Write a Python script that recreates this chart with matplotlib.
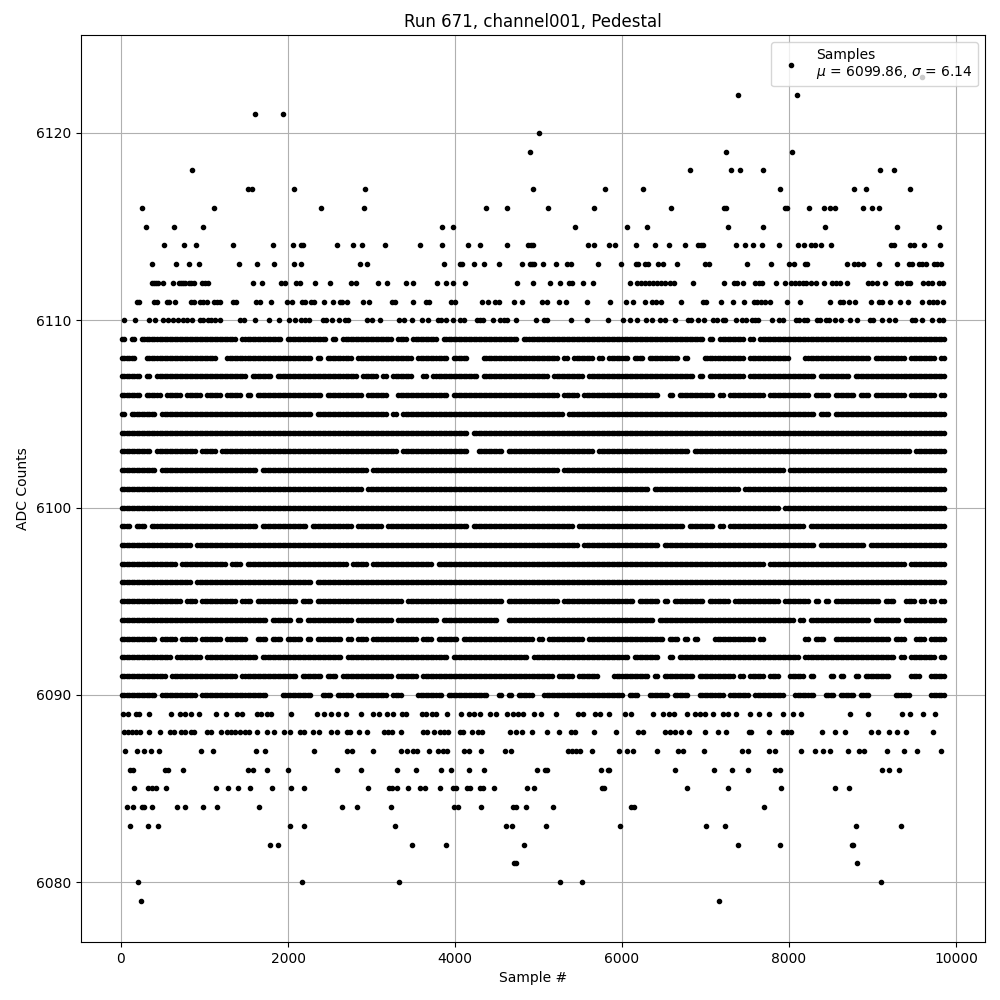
import numpy as np
import matplotlib
matplotlib.use("Agg")
import matplotlib.pyplot as plt

# Outer levels: sample numbers
s6123 = [9593]
s6122 = [7388, 8096]
s6121 = [1604, 1940]
s6120 = [5005]
s6119 = [4897, 7244, 8036]
s6118 = [848, 6812, 7304, 7412, 7688, 9092, 9260]
s6117 = [1516, 1572, 2072, 2924, 4933, 5797, 6253, 7892, 8780, 8924, 9452]
s6116 = [248, 1112, 2396, 2912, 4369, 4621, 5113, 5665, 6589, 7220, 7244, 7952, 7976, 8240, 8420, 8492, 8552, 8888, 8996, 9080]
s6115 = [296, 632, 980, 3841, 3973, 5437, 6061, 6301, 7268, 7688, 8432, 9296, 9800]
s6114 = [512, 752, 896, 1340, 1820, 2060, 2156, 2180, 2588, 2780, 2888, 3164, 3577, 3841, 4153, 4297, 4621, 4873, 4909, 4933, 5593, 5665, 5845, 5917, 6169, 6397, 6565, 6757, 6913, 6944, 6968, 7364, 7472, 7568, 7676, 7880, 8108, 8180, 8264, 8312, 8384, 8504, 9224, 9260, 9452, 9500, 9620, 9812]
s6113 = [368, 656, 812, 932, 1412, 1628, 1832, 2072, 2156, 2864, 2948, 3865, 4057, 4081, 4225, 4345, 4525, 4801, 4897, 4921, 4945, 5053, 5209, 5341, 5389, 5713, 5989, 6169, 6193, 6277, 6313, 6433, 6493, 6661, 6992, 7040, 7496, 7784, 8000, 8060, 8192, 8216, 8696, 8780, 8828, 8888, 9080, 9296, 9440, 9476, 9560, 9596, 9644, 9740, 9776, 9824]
s6112 = [368, 392, 416, 440, 500, 620, 692, 716, 740, 764, 812, 836, 872, 968, 1004, 1040, 1580, 1688, 1916, 1964, 2096, 2144, 2324, 2504, 2756, 2816, 3080, 3188, 3409, 3493, 3781, 3889, 3973, 4117, 4741, 4933, 5137, 5257, 5365, 5401, 5533, 5653, 6097, 6181, 6229, 6277, 6325, 6373, 6421, 6469, 6517, 6577, 6625, 6853, 7220, 7340, 7376, 7448, 7592, 7640, 7676, 7844, 7952, 8024, 8072, 8120, 8168, 8204, 8264, 8324, 8420, 8516, 8564, 8612, 8696, 8948, 8996, 9056, 9152, 9296, 9344, 9416, 9452, 9608, 9668, 9716, 9800, 9848]
s6111 = [188, 212, 392, 428, 548, 572, 644, 836, 872, 944, 980, 1028, 1112, 1148, 1184, 1340, 1376, 1616, 1664, 1796, 1988, 2048, 2168, 2204, 2276, 2312, 2432, 2540, 2624, 2648, 2708, 2900, 2972, 3248, 3284, 3493, 3649, 3685, 3949, 3997, 4321, 4393, 4477, 4525, 4705, 4801, 5041, 5101, 5245, 5329, 5581, 5857, 6049, 6133, 6277, 6361, 6409, 6469, 6704, 6968, 7004, 7184, 7328, 7460, 7580, 7616, 7664, 7712, 7772, 7976, 8132, 8492, 8612, 8648, 8720, 8792, 8984, 9080, 9116, 9212, 9332, 9428, 9596, 9680, 9728, 9776, 9848]
s6110 = [32, 164, 332, 404, 500, 560, 620, 680, 740, 788, 848, 944, 980, 1040, 1076, 1124, 1184, 1424, 1472, 1604, 1772, 1892, 2012, 2084, 2156, 2204, 2252, 2420, 2456, 2528, 2612, 2684, 2720, 2948, 3008, 3104, 3332, 3385, 3481, 3601, 3673, 3793, 3829, 3889, 3973, 4057, 4105, 4261, 4297, 4333, 4453, 4537, 4585, 4621, 4729, 4969, 5065, 5101, 5389, 5581, 5833, 6013, 6097, 6181, 6289, 6361, 6457, 6517, 6637, 6788, 6824, 6908, 6980, 7088, 7136, 7208, 7232, 7364, 7436, 7484, 7556, 7592, 7628, 7796, 7880, 7928, 8084, 8120, 8180, 8216, 8336, 8372, 8444, 8480, 8552, 8624, 8732, 8816, 8972, 9008, 9116, 9200, 9272, 9476, 9512, 9596, 9716, 9800, 9848]
s6089 = [20, 80, 176, 212, 332, 596, 704, 764, 836, 932, 1136, 1256, 1388, 1448, 1628, 1676, 1748, 1796, 2036, 2348, 2432, 2516, 2600, 2696, 2876, 3020, 3092, 3188, 3260, 3361, 3409, 3601, 3649, 3721, 3769, 3901, 4069, 4165, 4225, 4297, 4417, 4489, 4621, 4693, 4753, 4813, 4945, 5029, 5209, 5473, 5533, 5677, 5737, 5845, 6037, 6109, 6373, 6493, 6565, 6625, 6776, 6872, 6932, 6992, 7088, 7208, 7268, 7364, 7532, 7640, 7760, 7928, 8048, 8144, 8732, 8948, 9356, 9452, 9608, 9752]
s6088 = [32, 80, 128, 176, 224, 332, 464, 584, 632, 716, 764, 836, 872, 1028, 1076, 1196, 1268, 1316, 1364, 1424, 1484, 1532, 1628, 1748, 1832, 1952, 2024, 2144, 2192, 2300, 2372, 2516, 2588, 2708, 2744, 2852, 2948, 3152, 3200, 3248, 3349, 3613, 3661, 3745, 3817, 3865, 3913, 4057, 4093, 4201, 4273, 4321, 4657, 4729, 4801, 4921, 5101, 5245, 5389, 5437, 5665, 5929, 6193, 6253, 6517, 6577, 6637, 6704, 6800, 6992, 7148, 7244, 7520, 7544, 7760, 7928, 7976, 8024, 8396, 8552, 8672, 8984, 9068, 9200, 9296, 9404, 9728]
s6087 = [44, 188, 272, 356, 452, 956, 1100, 1616, 1724, 2312, 2708, 2768, 3020, 3349, 3421, 3493, 3541, 3685, 3793, 3853, 3901, 4105, 4165, 4309, 4597, 4669, 5353, 5401, 5449, 5497, 5641, 5965, 6061, 6133, 6421, 6673, 6728, 6980, 7436, 7508, 7760, 7832, 8144, 8312, 8408, 8488, 8708, 8840, 8900, 9176, 9380, 9536, 9824]
s6086 = [104, 140, 524, 560, 740, 1520, 1580, 1748, 2000, 2588, 2876, 3308, 3529, 3829, 3949, 4165, 4345, 4981, 5077, 5101, 5749, 5833, 5845, 6637, 7100, 7316, 7508, 7832, 7892, 9116, 9200, 9320]
s6085 = [152, 320, 368, 416, 536, 1136, 1280, 1400, 1544, 1808, 2036, 2192, 2960, 3212, 3248, 3308, 3433, 3577, 3637, 3817, 3973, 4009, 4141, 4177, 4297, 4333, 4465, 4861, 4945, 5761, 5785, 6776, 7268, 7904, 8552, 8720]
s6084 = [68, 140, 248, 272, 368, 668, 764, 980, 1148, 1652, 2648, 2828, 3236, 3985, 4033, 4309, 4693, 4729, 4849, 5173, 6109, 6145, 7700]
s6083 = [104, 320, 440, 2024, 2192, 3284, 4609, 4681, 5089, 5977, 7004, 7232, 8804, 9344]
s6082 = [1784, 1880, 3481, 3889, 4825, 7388, 7892, 8756, 8768]
s6081 = [4705, 4729, 8816]
s6080 = [200, 2168, 3332, 5257, 5521, 9104]
s6079 = [236, 7160]

# Dense levels: one character per column of about 60 samples, '#' where the row is occupied
F = "##########"
r6109 = "#.#.######" + F + "###.######" + "##.#######" + "#.#.######" + "####.##.##" + "###.######" + "#########." + F + F + F + "######.#.#" + "####.#.###" + F + F + F + "####"
r6108 = "###..#####" + "#########." + ".#########" + "########.#" + ".#####.###" + "########.#" + "#####.###." + "..########" + "#######.#." + "####.#.###" + "#.##.#####" + "#.#...####" + "####.#####" + "###...####" + "#########." + "######.###" + "##.#"
r6107 = "####.#.###" + F + "#####.####" + ".#########" + "#######.##" + "#.#.####.." + "#.########" + "#.########" + "#####.####" + "##.#######" + F + "####.#.###" + "####.#####" + "########.#" + "#####.####" + F + "####"
r6106 = "####.###.#" + "##.###.###" + ".###.#.###" + F + ".#######.#" + "###..#####" + "#####.####" + F + "#######.##" + "#.########" + "#######..#" + ".#######.#" + ".#######.#" + "#######.##" + "#.####.##." + "######.###" + "##.#"
r6105 = "#.#####.##" + F + F + "########.#" + F + "###.#.####" + F + F + "########.#" + F + F + F + F + "########.#" + "#.########" + F + "####"
r6104 = F * 6 + "#########." + F * 9 + "####"
r6103 = "######.###" + "#####.###." + F + F + F + "#####.####" + "#########." + ".#####.###" + F + "####.#####" + F + "###.######" + F + F + F + "#######.##" + "####"
r6102 = "#######.##" + F + "#######.##" + F + "#########." + F + F + F + "#######.##" + F * 4 + "##.#######" + F + F + "####"
r6101 = F * 4 + "########.#" + F * 5 + "#####.####" + F + "###.######" + F * 3 + "####"
r6100 = F * 13 + "#.########" + F + F + "####"
r6099 = "##.##.####" + F + "#######.##" + "#######.##" + "######.###" + "##.#######" + "#########." + F + F + ".#########" + F + "##.#####.#" + ".#########" + "######.###" + F + F + "####"
r6098 = F + "####.#####" + F * 7 + "#.########" + "#######.##" + F + F + "########.#" + "########.#" + F + "####"
r6097 = F + "#.########" + "#.##.#####" + F + "#####.###." + F + "##.#######" + F * 5 + "########.#" + F + F + "######.###" + "####"
r6096 = F + "####.#####" + F + "########.#" + F * 12 + "####"
r6095 = F + "##.##.####" + "###.##.###" + "#####.##.#" + F + "######.###" + F + "######.###" + "#######.##" + F + "##.####.#." + "######.###" + "#.########" + "#.#####.#." + "#.########" + "#.##..##.#" + ".#.#"
r6094 = F + F + "#########." + "####.#.###" + "######.###" + "####.#####" + "###.######" + "#####..###" + F + F + "######.###" + F + F + "####.#.###" + "#########." + "#####.####" + "####"
r6093 = "#######.##" + "#.###.####" + ".####..##." + "##.###.#.#" + "####.#.##." + "#########." + "##.####.##" + F + "##.#.#####" + "##.#######" + "########.#" + "#.#.#...##" + "######.#.." + "......#.##" + "..########" + "###.##..##" + ".###"
r6092 = F + ".#####.###" + "#######.##" + F + "####.#####" + F + "#####.####" + F + "#.########" + F + "#.#####..#" + ".#########" + F + "#####.####" + F + "####.#.###" + "##.#"
r6091 = "#########." + F + "###.######" + "#####.####" + ".##.######" + "####.####." + F + F + "######.###" + ".####...##" + "#####.#.##" + "####.#####" + "##.#.###.#" + "#..###.#.." + ".#.#..#.##" + "###....##." + ".###"
r6090 = "#######.##" + "#####.####" + "#########." + "..######.." + "##.###.###" + "###.##...#" + "####.#####" + "###..#.#.#" + "##..######" + F + ".##..####." + "###..#####" + ".####.####" + "##..####.." + "##.###.##." + "....###..." + ".###"

explicit_levels = {6123: s6123, 6122: s6122, 6121: s6121, 6120: s6120, 6119: s6119, 6118: s6118,
                   6117: s6117, 6116: s6116, 6115: s6115, 6114: s6114, 6113: s6113, 6112: s6112,
                   6111: s6111, 6110: s6110, 6089: s6089, 6088: s6088,
                   6087: s6087, 6086: s6086, 6085: s6085, 6084: s6084, 6083: s6083, 6082: s6082,
                   6081: s6081, 6080: s6080, 6079: s6079}
dense_levels = {6109: r6109, 6108: r6108, 6107: r6107, 6106: r6106, 6105: r6105, 6104: r6104,
                6103: r6103, 6102: r6102, 6101: r6101, 6100: r6100, 6099: r6099, 6098: r6098,
                6097: r6097, 6096: r6096, 6095: r6095, 6094: r6094, 6093: r6093, 6092: r6092,
                6091: r6091, 6090: r6090}

xs, ys = [], []
for level, samples in explicit_levels.items():
    xs.extend(samples)
    ys.extend([level] * len(samples))
for level, row in dense_levels.items():
    # each occupied column holds several samples, drawn at its two quarter points
    cols = [i for i, c in enumerate(row) if c == "#"]
    for c in cols:
        xs.extend([c * 60.2 + 10, c * 60.2 + 40])
        ys.extend([level, level])

fig, ax = plt.subplots(figsize=(10, 10), dpi=100)
fig.subplots_adjust(left=0.081, right=0.985, top=0.965, bottom=0.058)
ax.plot(xs, ys, "k.", label="Samples\n$\\mu$ = 6099.86, $\\sigma$ = 6.14")
ax.set_title("Run 671, channel001, Pedestal")
ax.set_xlabel("Sample #")
ax.set_ylabel("ADC Counts")
ax.set_xlim(-479, 10347)
ax.set_ylim(6076.8, 6125.23)
ax.grid(True)
ax.legend(loc="upper right")
fig.savefig("out.png", dpi=100)
